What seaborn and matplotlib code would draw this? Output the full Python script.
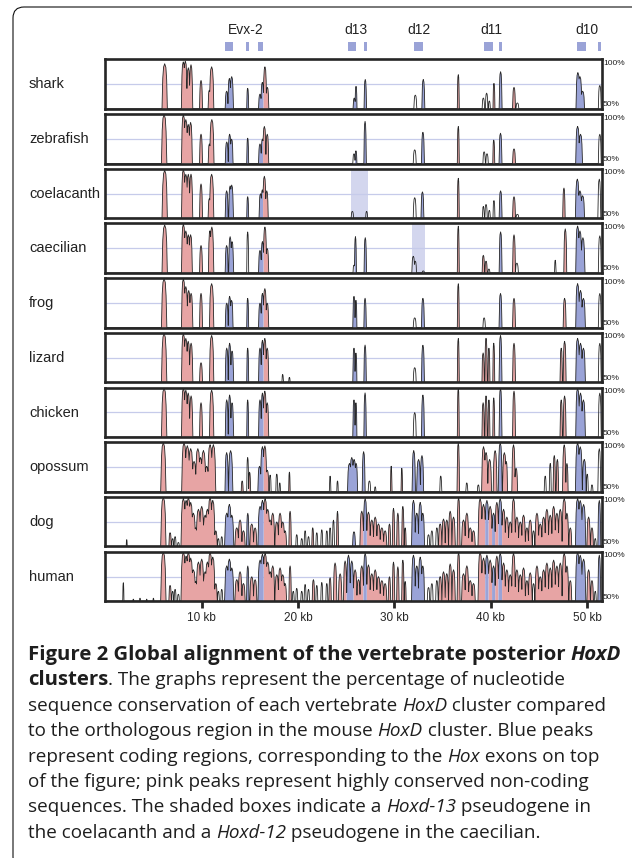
"""
Global alignment of the vertebrate posterior HoxD clusters (VISTA-style plot)
"""
import numpy as np
import pandas as pd
import matplotlib
matplotlib.use("Agg")
import matplotlib.pyplot as plt
import seaborn as sns
from matplotlib.patches import Rectangle, FancyBboxPatch
from matplotlib.font_manager import FontProperties

# ---- data: peaks as (position kb, base width kb, % identity, kind) ----
# kind: "p" = conserved non-coding (pink), "b" = coding (blue), "k" = outline only
species = ["shark", "zebrafish", "coelacanth", "caecilian", "frog",
           "lizard", "chicken", "opossum", "dog", "human"]

shark = [(6.16, .55, 96, "p"), (8.09, .4, 98, "p"), (8.30, .4, 99, "p"), (8.61, .35, 92, "p"),
         (8.89, .35, 95, "p"), (9.93, .3, 79, "p"), (10.79, .25, 69, "p"), (11.03, .45, 93, "p"),
         (12.59, .3, 68, "b"), (12.87, .3, 81, "b"), (13.11, .35, 83, "b"), (14.77, .2, 71, "b"),
         (16.05, .3, 65, "b"), (16.29, .3, 77, "b"), (16.56, .35, 93, "p"), (16.81, .3, 72, "p"),
         (25.83, .25, 61, "b"), (26.01, .2, 73, "b"), (26.97, .25, 80, "b"), (32.16, .3, 64, "k"),
         (32.99, .3, 80, "b"), (36.62, .2, 85, "p"), (39.22, .25, 61, "k"), (39.56, .25, 66, "k"),
         (39.84, .2, 58, "k"), (40.32, .2, 76, "p"), (41.01, .3, 88, "b"), (42.40, .3, 72, "p"),
         (42.75, .3, 56, "k"), (49.03, .4, 87, "b"), (49.24, .4, 83, "b"), (49.52, .4, 68, "b"),
         (51.30, .3, 74, "k")]

zebrafish = [(6.1, .55, 100, "p"), (8.1, .4, 100, "p"), (8.35, .4, 95, "p"), (8.6, .35, 90, "p"),
             (8.85, .35, 92, "p"), (9.93, .3, 80, "p"), (10.8, .25, 70, "p"), (11.05, .45, 95, "p"),
             (12.6, .3, 72, "b"), (12.9, .3, 80, "b"), (13.1, .3, 75, "b"), (14.77, .2, 76, "b"),
             (16.05, .3, 70, "b"), (16.3, .3, 75, "b"), (16.5, .35, 88, "p"), (16.8, .3, 80, "p"),
             (25.8, .25, 60, "k"), (26.0, .2, 63, "b"), (26.95, .25, 93, "b"), (32.1, .3, 64, "k"),
             (32.95, .3, 82, "b"), (36.62, .2, 88, "p"), (39.3, .25, 62, "k"), (39.6, .25, 60, "k"),
             (40.3, .2, 74, "p"), (41.0, .3, 81, "b"), (42.4, .3, 65, "p"), (49.0, .4, 88, "b"),
             (49.3, .4, 80, "b"), (51.3, .3, 80, "k")]

coelacanth = [(6.16, .55, 99, "p"), (8.1, .4, 100, "p"), (8.35, .4, 95, "p"), (8.61, .35, 95, "p"),
              (8.89, .35, 95, "p"), (9.93, .3, 85, "p"), (10.79, .25, 70, "p"), (11.03, .45, 95, "p"),
              (12.59, .3, 78, "b"), (12.95, .3, 83, "b"), (13.11, .35, 84, "b"), (14.77, .2, 72, "b"),
              (16.1, .3, 75, "b"), (16.29, .3, 79, "b"), (16.5, .35, 93, "p"), (16.75, .3, 78, "p"),
              (25.63, .25, 57, "k"), (27.11, .2, 57, "k"), (32.1, .3, 71, "k"), (32.9, .3, 77, "b"),
              (36.62, .2, 91, "p"), (39.22, .2, 62, "k"), (39.5, .25, 64, "k"), (39.84, .2, 58, "k"),
              (40.32, .2, 68, "k"), (41.01, .3, 78, "b"), (42.40, .3, 72, "p"), (42.75, .3, 54, "k"),
              (47.58, .25, 81, "p"), (48.97, .4, 90, "b"), (49.24, .4, 78, "b"), (49.52, .4, 73, "b"),
              (51.25, .3, 90, "k")]

caecilian = [(6.16, .55, 99, "p"), (8.1, .4, 100, "p"), (8.35, .4, 93, "p"), (8.61, .35, 89, "p"),
             (8.85, .35, 89, "p"), (9.93, .3, 78, "p"), (10.85, .3, 93, "p"), (11.05, .4, 97, "p"),
             (12.59, .3, 78, "b"), (12.95, .3, 87, "b"), (13.15, .3, 82, "b"), (14.77, .2, 92, "k"),
             (16.05, .3, 73, "b"), (16.3, .3, 82, "b"), (16.56, .35, 97, "p"), (16.8, .3, 75, "p"),
             (25.8, .2, 58, "k"), (25.95, .2, 87, "b"), (26.97, .25, 86, "b"), (31.95, .3, 67, "k"),
             (32.16, .25, 62, "k"), (32.99, .25, 52, "k"), (36.62, .2, 98, "p"), (39.22, .25, 68, "p"),
             (39.5, .25, 62, "p"), (39.8, .2, 54, "k"), (41.01, .3, 92, "b"), (42.40, .3, 89, "p"),
             (42.7, .3, 60, "k"), (46.68, .15, 63, "k"), (47.72, .3, 95, "p"), (49.0, .4, 98, "b"),
             (49.24, .4, 93, "b"), (49.55, .4, 86, "b"), (51.3, .3, 88, "k")]

frog = [(6.1, .55, 100, "p"), (8.1, .4, 100, "p"), (8.35, .4, 92, "p"), (8.65, .35, 88, "p"),
        (8.9, .35, 85, "p"), (9.93, .3, 85, "p"), (11.03, .45, 95, "p"), (12.6, .3, 75, "b"),
        (12.9, .3, 82, "b"), (13.1, .3, 78, "b"), (14.77, .2, 80, "b"), (16.05, .3, 75, "b"),
        (16.3, .3, 85, "b"), (16.55, .35, 90, "p"), (16.8, .3, 75, "p"), (25.8, .25, 82, "b"),
        (26.0, .2, 78, "b"), (26.95, .25, 80, "b"), (32.1, .3, 60, "k"), (32.95, .3, 80, "b"),
        (36.62, .2, 95, "p"), (39.3, .25, 60, "k"), (41.0, .3, 85, "b"), (42.4, .3, 80, "p"),
        (47.65, .3, 80, "p"), (49.0, .4, 95, "b"), (49.3, .4, 88, "b"), (49.6, .4, 80, "b"),
        (51.3, .3, 85, "k")]

lizard = [(6.1, .55, 100, "p"), (8.1, .4, 100, "p"), (8.35, .4, 95, "p"), (8.6, .35, 92, "p"),
          (8.9, .35, 90, "p"), (9.93, .3, 70, "p"), (11.03, .45, 98, "p"), (12.6, .3, 85, "b"),
          (12.9, .3, 90, "b"), (13.15, .3, 82, "b"), (14.77, .2, 85, "b"), (16.05, .3, 85, "b"),
          (16.3, .3, 93, "b"), (16.55, .35, 95, "p"), (16.8, .3, 85, "p"), (18.4, .15, 58, "k"),
          (19.1, .15, 55, "k"), (25.8, .25, 85, "b"), (26.0, .2, 80, "b"), (26.95, .25, 88, "b"),
          (32.1, .3, 65, "k"), (32.95, .3, 88, "b"), (36.62, .2, 95, "p"), (39.2, .25, 80, "p"),
          (39.5, .25, 95, "p"), (39.8, .2, 85, "p"), (40.3, .2, 90, "p"), (41.0, .3, 98, "b"),
          (42.4, .3, 90, "p"), (47.3, .25, 85, "p"), (47.65, .3, 92, "p"), (49.0, .4, 95, "b"),
          (49.3, .4, 90, "b"), (49.6, .4, 85, "b"), (51.3, .3, 90, "k")]

chicken = [(6.1, .55, 100, "p"), (8.1, .4, 100, "p"), (8.35, .4, 98, "p"), (8.6, .35, 95, "p"),
           (8.9, .35, 92, "p"), (9.93, .3, 85, "p"), (11.03, .45, 98, "p"), (12.6, .3, 88, "b"),
           (12.9, .3, 93, "b"), (13.15, .3, 85, "b"), (14.77, .2, 88, "b"), (16.05, .3, 88, "b"),
           (16.3, .3, 95, "b"), (16.55, .35, 97, "p"), (16.8, .3, 85, "p"), (25.8, .25, 88, "b"),
           (26.0, .2, 85, "b"), (26.95, .25, 95, "b"), (32.1, .3, 75, "k"), (32.95, .3, 93, "b"),
           (36.62, .2, 100, "p"), (39.2, .25, 85, "p"), (39.5, .25, 92, "p"), (39.8, .2, 88, "p"),
           (40.3, .2, 90, "p"), (41.0, .3, 100, "b"), (42.4, .3, 97, "p"), (47.3, .25, 88, "p"),
           (47.65, .3, 92, "p"), (49.0, .4, 100, "b"), (49.3, .4, 95, "b"), (49.6, .4, 88, "b"),
           (51.3, .3, 95, "k")]

opossum = [(6.02, .55, 100, "p"), (8.17, .5, 100, "p"), (8.51, .5, 97, "p"), (8.86, .5, 94, "p"),
           (9.21, .45, 81, "p"), (9.6, .5, 94, "p"), (9.88, .4, 85, "p"), (10.18, .5, 92, "p"),
           (10.52, .45, 76, "p"), (10.87, .5, 98, "p"), (11.21, .5, 98, "p"), (12.59, .35, 90, "b"),
           (13.0, .45, 92, "b"), (14.2, .2, 61, "p"), (14.77, .2, 85, "k"), (14.97, .2, 70, "p"),
           (16.0, .35, 76, "b"), (16.3, .4, 96, "b"), (16.55, .4, 97, "p"), (16.8, .35, 72, "p"),
           (17.1, .2, 67, "k"), (17.79, .2, 68, "k"), (18.1, .15, 59, "k"), (19.1, .15, 70, "p"),
           (23.32, .15, 66, "k"), (24.09, .15, 61, "k"), (25.33, .4, 79, "b"), (25.57, .4, 85, "b"),
           (25.81, .4, 83, "b"), (26.02, .3, 79, "b"), (26.8, .3, 91, "b"), (27.4, .25, 61, "k"),
           (28.0, .15, 55, "k"), (29.66, .15, 76, "p"), (30.76, .15, 74, "p"), (32.0, .35, 92, "b"),
           (32.5, .4, 83, "b"), (32.85, .35, 87, "b"), (34.8, .2, 66, "k"), (36.62, .25, 100, "p"),
           (37.5, .2, 59, "k"), (38.7, .2, 57, "k"), (39.24, .4, 96, "p"), (39.5, .4, 90, "p"),
           (39.87, .4, 83, "p"), (40.44, .4, 92, "p"), (40.97, .4, 100, "b"), (41.4, .4, 90, "p"),
           (41.6, .25, 81, "p"), (42.35, .35, 98, "p"), (42.62, .3, 74, "p"), (45.64, .2, 66, "k"),
           (46.16, .2, 79, "k"), (46.58, .25, 87, "p"), (46.9, .25, 83, "p"), (47.61, .35, 98, "p"),
           (47.89, .25, 79, "p"), (49.0, .45, 100, "b"), (49.27, .45, 96, "b"), (49.69, .4, 83, "b"),
           (50.0, .2, 68, "k"), (50.49, .2, 57, "k"), (51.25, .3, 94, "k")]

dog = [(2.22, .1, 57, "k"), (6.02, .55, 100, "p"), (6.72, .25, 64, "p"), (6.99, .2, 58, "k"),
       (7.24, .2, 60, "k"), (7.58, .2, 54, "k"), (8.10, .5, 99, "p"), (8.38, .45, 97, "p"),
       (8.62, .45, 100, "p"), (8.86, .45, 95, "p"), (9.14, .45, 84, "p"), (9.38, .35, 69, "p"),
       (9.66, .45, 88, "p"), (10.0, .45, 91, "p"), (10.35, .45, 82, "p"), (10.59, .45, 88, "p"),
       (10.87, .45, 100, "p"), (11.15, .45, 97, "p"), (11.46, .3, 66, "p"), (11.73, .2, 58, "k"),
       (12.08, .2, 60, "k"), (12.6, .45, 84, "b"), (12.87, .45, 93, "b"), (13.12, .4, 82, "b"),
       (13.64, .4, 69, "p"), (13.98, .4, 77, "p"), (14.33, .35, 66, "p"), (14.78, .25, 84, "b"),
       (15.19, .4, 73, "p"), (15.54, .35, 69, "p"), (16.06, .45, 91, "b"), (16.3, .45, 97, "b"),
       (16.58, .45, 99, "p"), (16.85, .45, 88, "p"), (17.1, .4, 77, "p"), (17.37, .4, 84, "p"),
       (17.79, .4, 75, "p"), (18.13, .4, 84, "p"), (18.41, .4, 75, "p"), (18.65, .3, 66, "p"),
       (19.17, .25, 86, "p"), (19.86, .2, 62, "k"), (20.38, .2, 58, "k"), (20.73, .2, 66, "k"),
       (21.08, .2, 60, "k"), (21.52, .2, 69, "p"), (21.94, .2, 64, "k"), (22.46, .2, 67, "k"),
       (22.98, .2, 66, "k"), (23.32, .2, 69, "k"), (23.67, .2, 77, "k"), (24.09, .2, 86, "p"),
       (25.8, .3, 65, "b"), (26.61, .4, 86, "p"), (26.96, .4, 99, "b"), (27.3, .4, 85, "p"),
       (27.65, .4, 77, "p"), (28.0, .4, 80, "p"), (28.34, .4, 73, "p"), (28.69, .4, 69, "p"),
       (29.03, .35, 66, "p"), (29.48, .25, 73, "p"), (29.9, .25, 89, "p"), (30.35, .25, 84, "p"),
       (30.87, .25, 91, "p"), (31.11, .2, 69, "p"), (31.97, .4, 97, "b"), (32.32, .4, 84, "b"),
       (32.67, .4, 95, "b"), (32.94, .35, 84, "b"), (33.53, .25, 62, "k"), (33.88, .25, 66, "k"),
       (34.4, .25, 69, "k"), (34.74, .35, 73, "p"), (35.09, .35, 78, "p"), (35.43, .35, 77, "p"),
       (35.78, .35, 86, "p"), (36.13, .35, 80, "p"), (36.65, .3, 100, "p"), (37.16, .4, 77, "p"),
       (37.51, .4, 84, "p"), (37.86, .4, 69, "p"), (38.2, .35, 66, "p"), (38.89, .45, 99, "p"),
       (39.24, .45, 93, "p"), (39.59, .45, 97, "b"), (39.93, .45, 91, "p"), (40.28, .4, 84, "b"),
       (40.62, .4, 95, "p"), (40.97, .45, 99, "b"), (41.32, .4, 88, "p"), (41.66, .4, 80, "p"),
       (42.01, .4, 75, "p"), (42.35, .4, 99, "p"), (42.7, .4, 80, "p"), (43.05, .4, 75, "p"),
       (43.39, .4, 82, "p"), (43.74, .35, 69, "p"), (44.08, .4, 77, "p"), (44.43, .25, 66, "k"),
       (44.78, .4, 84, "p"), (45.12, .4, 73, "p"), (45.47, .4, 80, "p"), (45.81, .4, 88, "p"),
       (46.16, .4, 82, "p"), (46.51, .4, 91, "p"), (46.85, .4, 84, "p"), (47.2, .4, 88, "p"),
       (47.61, .45, 99, "p"), (47.89, .35, 84, "p"), (48.24, .3, 69, "p"), (49.0, .45, 99, "b"),
       (49.27, .45, 97, "b"), (49.62, .45, 93, "b"), (50.14, .35, 80, "p"), (50.49, .3, 69, "p"),
       (50.83, .2, 58, "k"), (51.25, .3, 97, "b")]

human = [(1.87, .12, 69, "k"), (2.91, .1, 52, "k"), (3.6, .1, 53, "k"), (4.29, .1, 52, "k"),
         (4.99, .1, 53, "k"), (6.02, .55, 100, "p"), (6.72, .25, 66, "p"), (6.99, .2, 60, "k"),
         (7.24, .2, 62, "k"), (7.58, .2, 57, "k"), (8.10, .5, 100, "p"), (8.38, .45, 96, "p"),
         (8.62, .45, 100, "p"), (8.86, .45, 94, "p"), (9.14, .45, 82, "p"), (9.38, .35, 70, "p"),
         (9.66, .45, 90, "p"), (10.0, .45, 93, "p"), (10.35, .45, 80, "p"), (10.59, .45, 90, "p"),
         (10.87, .45, 100, "p"), (11.15, .45, 95, "p"), (11.46, .3, 68, "p"), (11.73, .2, 60, "k"),
         (12.08, .2, 62, "k"), (12.6, .45, 86, "b"), (12.87, .45, 93, "b"), (13.12, .4, 84, "b"),
         (13.64, .4, 72, "p"), (13.98, .4, 80, "p"), (14.33, .35, 68, "p"), (14.78, .25, 86, "b"),
         (15.19, .4, 75, "p"), (15.54, .35, 72, "p"), (16.06, .45, 92, "b"), (16.3, .45, 98, "b"),
         (16.58, .45, 99, "p"), (16.85, .45, 90, "p"), (17.1, .4, 80, "p"), (17.37, .4, 86, "p"),
         (17.79, .4, 77, "p"), (18.13, .4, 84, "p"), (18.41, .4, 77, "p"), (18.65, .3, 68, "p"),
         (19.17, .25, 86, "p"), (19.5, .2, 60, "k"), (19.86, .2, 63, "k"), (20.38, .2, 60, "k"),
         (20.73, .2, 67, "k"), (21.08, .2, 62, "k"), (21.59, .25, 72, "p"), (21.94, .2, 66, "k"),
         (22.46, .2, 69, "k"), (22.98, .2, 68, "k"), (23.32, .25, 74, "p"), (23.84, .35, 89, "p"),
         (24.36, .35, 78, "p"), (24.88, .35, 91, "p"), (25.23, .4, 97, "b"), (25.57, .4, 91, "b"),
         (25.92, .4, 82, "p"), (26.27, .35, 72, "p"), (26.61, .4, 86, "p"), (26.96, .4, 99, "b"),
         (27.3, .4, 87, "p"), (27.65, .4, 78, "p"), (28.0, .4, 82, "p"), (28.34, .4, 75, "p"),
         (28.69, .4, 71, "p"), (29.03, .35, 68, "p"), (29.48, .25, 75, "p"), (29.9, .25, 90, "p"),
         (30.35, .25, 85, "p"), (30.87, .25, 92, "p"), (31.11, .2, 70, "p"), (31.97, .4, 97, "b"),
         (32.32, .4, 86, "b"), (32.67, .4, 95, "b"), (32.94, .35, 86, "b"), (33.53, .25, 64, "k"),
         (33.88, .25, 68, "k"), (34.4, .25, 71, "k"), (34.74, .35, 75, "p"), (35.09, .35, 80, "p"),
         (35.43, .35, 78, "p"), (35.78, .35, 88, "p"), (36.13, .35, 82, "p"), (36.65, .3, 100, "p"),
         (37.16, .4, 78, "p"), (37.51, .4, 86, "p"), (37.86, .4, 71, "p"), (38.2, .35, 68, "p"),
         (38.89, .45, 100, "p"), (39.24, .45, 94, "p"), (39.59, .45, 97, "b"), (39.93, .45, 92, "p"),
         (40.28, .4, 86, "b"), (40.62, .4, 96, "p"), (40.97, .45, 99, "b"), (41.32, .4, 89, "p"),
         (41.66, .4, 82, "p"), (42.01, .4, 77, "p"), (42.35, .4, 99, "p"), (42.7, .4, 82, "p"),
         (43.05, .4, 77, "p"), (43.39, .4, 84, "p"), (43.74, .35, 71, "p"), (44.08, .4, 79, "p"),
         (44.43, .25, 68, "k"), (44.78, .4, 86, "p"), (45.12, .4, 75, "p"), (45.47, .4, 82, "p"),
         (45.81, .4, 89, "p"), (46.16, .4, 84, "p"), (46.51, .4, 92, "p"), (46.85, .4, 86, "p"),
         (47.2, .4, 89, "p"), (47.61, .45, 99, "p"), (47.89, .35, 86, "p"), (48.24, .3, 71, "p"),
         (49.0, .45, 100, "b"), (49.27, .45, 97, "b"), (49.62, .45, 93, "b"), (50.14, .35, 82, "p"),
         (50.49, .3, 71, "p"), (50.83, .2, 60, "k"), (51.25, .3, 97, "b")]

peak_lists = [shark, zebrafish, coelacanth, caecilian, frog, lizard, chicken, opossum, dog, human]

# pseudogene shading (kb)
pseudo_species = ["coelacanth", "caecilian"]
pseudo_start = [25.45, 31.78]
pseudo_end = [27.22, 33.16]

# Hox exons on top (kb)
exon_start = [12.4, 14.6, 15.8, 25.2, 26.8, 32.0, 39.3, 40.8, 48.9, 51.1]
exon_end = [13.2, 14.9, 16.4, 26.0, 27.1, 33.0, 40.2, 41.2, 49.9, 51.4]
gene_names = ["Evx-2", "d13", "d12", "d11", "d10"]
gene_pos = [14.6, 26.0, 32.5, 40.1, 50.0]

tick_pos = [10, 20, 30, 40, 50]
tick_labels = ["10 kb", "20 kb", "30 kb", "40 kb", "50 kb"]
x_max = 51.5

PINK = "#e7a4a4"
BLUE = "#9aa3d7"
SHADE = "#d3d6ee"
GRID = "#c6cbea"
FRAME = "#262626"
fill_colors = {"p": PINK, "b": BLUE}

# half-profile of one peak (shape only): distance from centre / half width -> fraction of height
shape_u = [0.0, 0.45, 0.75, 1.0]
shape_f = [1.0, 0.92, 0.65, 0.0]

sns.set_style("white")
plt.rcParams["font.family"] = ["Liberation Sans", "DejaVu Sans"]

W, H = 632, 858
fig = plt.figure(figsize=(W / 100, H / 100), dpi=100)


def px_axes(left, top, width, height):
    return fig.add_axes([left / W, 1 - (top + height) / H, width / W, height / H])


# rounded outer frame
fig.add_artist(FancyBboxPatch((13, -10), 720, H - 7 + 10, boxstyle="round,pad=0,rounding_size=11",
                              fill=False, ec="#111111", lw=0.8, transform=None))

# gene track on top
gax = px_axes(105.3, 18, 496.4, 38)
gax.set_xlim(0, x_max)
gax.set_ylim(0, 1)
gax.axis("off")
for s, e in zip(exon_start, exon_end):
    gax.add_patch(Rectangle((s, 0.13), e - s, 0.24, color=BLUE, lw=0))
for name, pos in zip(gene_names, gene_pos):
    gax.text(pos, 0.68, name, ha="center", va="center", fontsize=10, color="#222222")

panel_left, panel_w, panel_h = 105.3, 496.4, 49.5
first_top, step = 59.3, 54.7
xg = np.linspace(0, x_max, 5000)

for i, (sp, peaks) in enumerate(zip(species, peak_lists)):
    top = first_top + i * step
    ax = px_axes(panel_left, top, panel_w, panel_h)
    ax.set_xlim(0, x_max)
    ax.set_ylim(50, 100.5)
    ax.axhline(75, color=GRID, lw=0.9, zorder=1)
    if sp in pseudo_species:
        k = pseudo_species.index(sp)
        ax.axvspan(pseudo_start[k], pseudo_end[k], color=SHADE, lw=0, zorder=0.5)

    # upper envelope of all peaks = conservation curve
    prof = np.full((len(peaks) + 1, xg.size), 50.0)
    for j, (c, w, h, kind) in enumerate(peaks):
        prof[j] = 50 + (h - 50) * np.interp(np.abs(xg - c) / (w / 2), shape_u, shape_f)
    top_idx = prof.argmax(axis=0)
    curve = prof.max(axis=0)
    kinds = np.array([p[3] for p in peaks] + ["k"])[top_idx]
    for kind, col in fill_colors.items():
        ax.fill_between(xg, 50, curve, where=(kinds == kind) & (curve > 50.2),
                        color=col, lw=0, zorder=2)
    df = pd.DataFrame({"x": xg, "y": curve})
    sns.lineplot(data=df, x="x", y="y", estimator=None, sort=False,
                 color="#262626", lw=0.6, ax=ax, legend=False, zorder=3)

    ax.set_xlabel("")
    ax.set_ylabel("")
    ax.set_yticks([])
    for sp_name in ax.spines:
        ax.spines[sp_name].set_visible(True)
        ax.spines[sp_name].set_linewidth(1.9)
        ax.spines[sp_name].set_color(FRAME)
        ax.spines[sp_name].set_zorder(5)
    if sp == "human":
        ax.set_xticks(tick_pos, tick_labels)
        ax.tick_params(axis="x", direction="out", length=5, width=2, color=FRAME,
                       labelsize=8.5, pad=3, bottom=True)
    else:
        ax.set_xticks([])

    fig.text(29 / W, 1 - (top + 25) / H, sp, ha="left", va="center", fontsize=10.5, color="#222222")
    fig.text(603 / W, 1 - (top + 4) / H, "100%", ha="left", va="center", fontsize=6, color="#222222")
    fig.text(603 / W, 1 - (top + panel_h - 4) / H, "50%", ha="left", va="center", fontsize=6,
             color="#222222")

# ---- caption with mixed styles ----
caption = [
    [("Figure 2 Global alignment of the vertebrate posterior ", "b"), ("HoxD", "bi")],
    [("clusters", "b"), (". The graphs represent the percentage of nucleotide", "n")],
    [("sequence conservation of each vertebrate ", "n"), ("HoxD", "i"), (" cluster compared", "n")],
    [("to the orthologous region in the mouse ", "n"), ("HoxD", "i"), (" cluster. Blue peaks", "n")],
    [("represent coding regions, corresponding to the ", "n"), ("Hox", "i"), (" exons on top", "n")],
    [("of the figure; pink peaks represent highly conserved non-coding", "n")],
    [("sequences. The shaded boxes indicate a ", "n"), ("Hoxd-13", "i"), (" pseudogene in", "n")],
    [("the coelacanth and a ", "n"), ("Hoxd-12", "i"), (" pseudogene in the caecilian.", "n")],
]
# measured widths of lines 3-7 and of the bold line 1 in the original (px), used only to size fonts
body_width = 570 + 564 + 570 + 556 + 558
bold_width = 589

renderer = fig.canvas.get_renderer()


def font(style, size):
    return FontProperties(family=["Open Sans", "DejaVu Sans"], size=size,
                          weight="bold" if "b" in style else "normal",
                          style="italic" if "i" in style else "normal")


def seg_width(s, fp):
    w1 = renderer.get_text_width_height_descent("|" + s + "|", fp, ismath=False)[0]
    w0 = renderer.get_text_width_height_descent("||", fp, ismath=False)[0]
    return w1 - w0


ref_size = 13
ref_w = sum(seg_width(t, font(st, ref_size)) for line in caption[2:7] for t, st in line)
cap_size = ref_size * body_width / ref_w
bold_ref = sum(seg_width(t, font(st, ref_size)) for t, st in caption[0])
bold_size = min(ref_size * bold_width / bold_ref, cap_size * 1.08)

for k, line in enumerate(caption):
    x = 28
    y = 660 + k * 25.4
    for txt, st in line:
        fp = font(st, bold_size if "b" in st else cap_size)
        fig.text(x / W, 1 - y / H, txt, fontproperties=fp, ha="left", va="baseline", color="#1e1e1e")
        x += seg_width(txt, fp)

fig.savefig("out.png", dpi=100)
